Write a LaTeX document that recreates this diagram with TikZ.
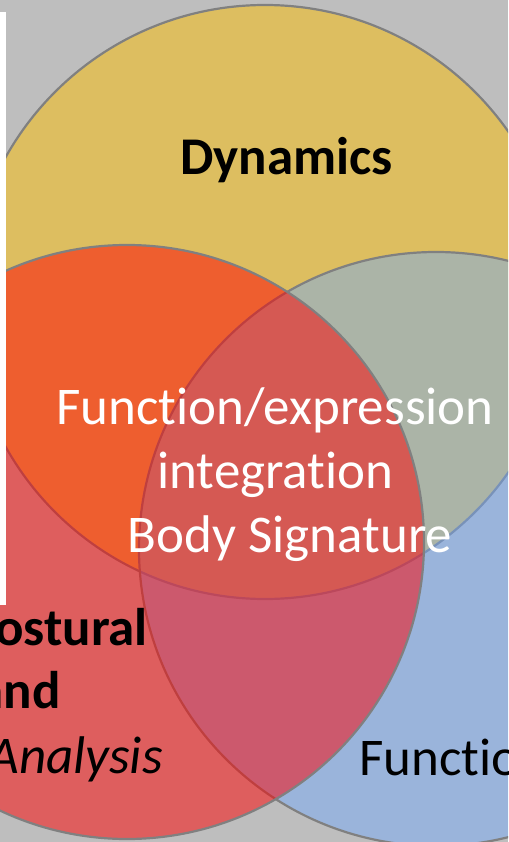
\documentclass[tikz,border=0pt]{standalone}
\usepackage{fontspec}
\setmainfont{Carlito}[Ligatures=NoCommon]
\definecolor{bggray}{RGB}{190,190,190}
\definecolor{yellowc}{RGB}{221,190,96}
\definecolor{bluec}{RGB}{112,168,255}
\definecolor{redc}{RGB}{255,0,0}
\definecolor{edgegray}{RGB}{128,128,128}
\tikzset{
  circ/.style={draw=edgegray, line width=2.2pt},
  lbl/.style={inner sep=0pt, font=\fontsize{53}{64}\selectfont},
}
\begin{document}
\begin{tikzpicture}[x=1pt,y=-1pt]
\useasboundingbox (0,0) rectangle (508,842);
\clip (0,0) rectangle (508,842);
\fill[bggray] (0,0) rectangle (508,842);
% circles
\path[circ, fill=yellowc] (265,302) circle[radius=297];
\path[circ, fill=bluec, fill opacity=0.45] (436,549) circle[radius=297];
\path[circ, fill=redc, fill opacity=0.5] (127,542) circle[radius=297];
% white strip
\fill[white] (0,12) rectangle (6,605);
% labels
\node[lbl, anchor=base, font=\fontsize{53}{64}\selectfont\bfseries] (dyn) at (286.5,175) {Dynamics};
\node[lbl, anchor=base, text=white] (fe) at (275,424) {Function/expression};
\node[lbl, anchor=base, text=white] (integ) at (275.5,488) {integration};
\node[lbl, anchor=base, text=white] (body) at (290,552) {Body Signature};
\node[lbl, anchor=base east, font=\fontsize{53}{64}\selectfont\bfseries] (post) at (148,645) {Postural};
\node[lbl, anchor=base east, font=\fontsize{53}{64}\selectfont\bfseries] (and) at (61,708) {and};
\node[lbl, anchor=base east, font=\fontsize{53}{64}\selectfont\itshape] (anal) at (163,773) {Analysis};
\node[lbl, anchor=base west] (func) at (359,775) {Functional};
\end{tikzpicture}
\end{document}
